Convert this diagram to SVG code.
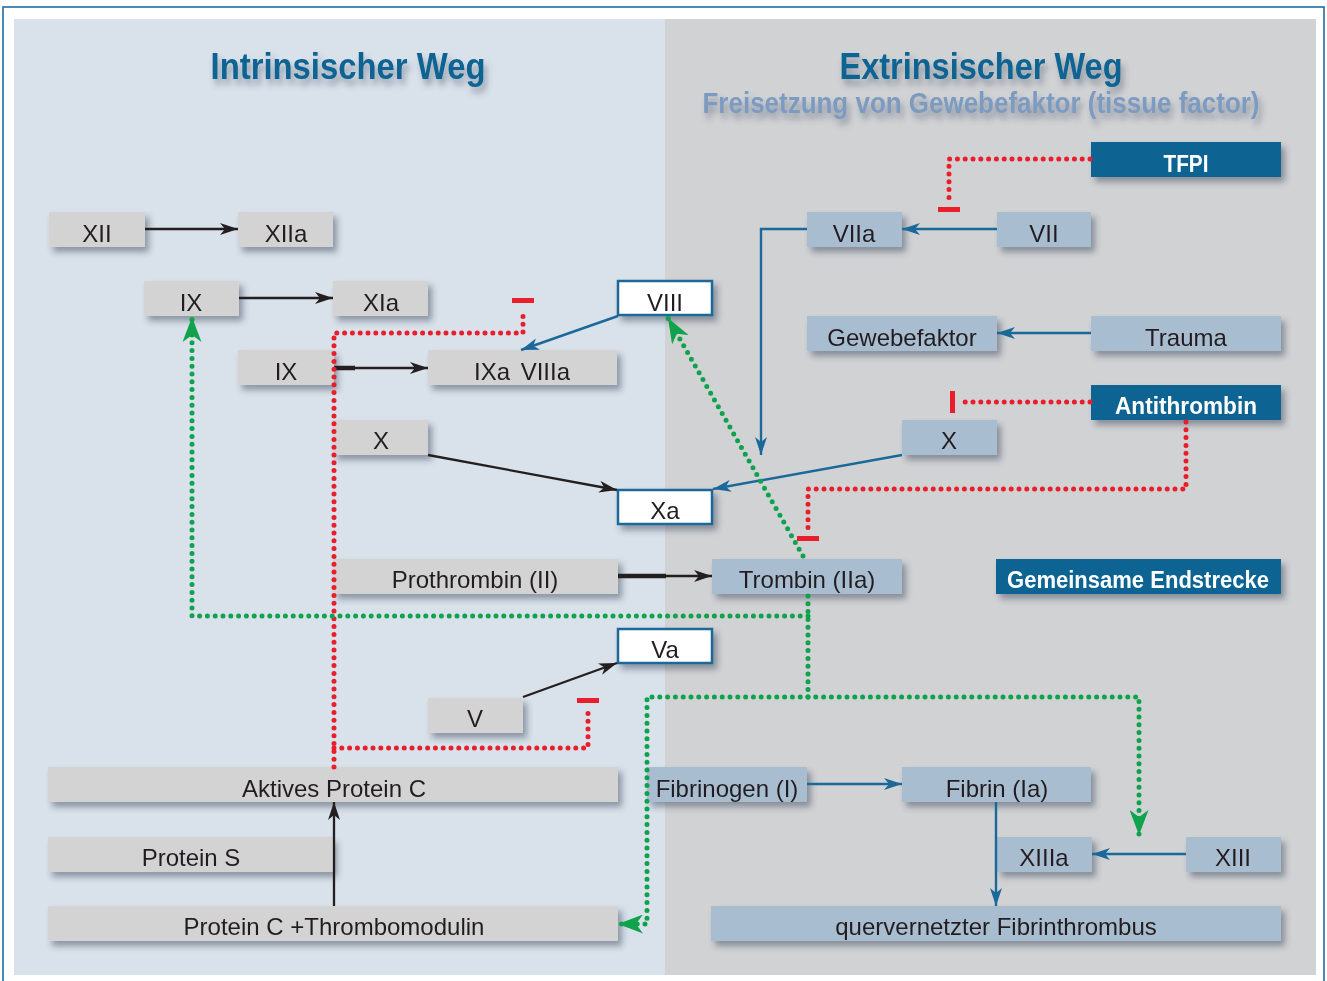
<svg xmlns="http://www.w3.org/2000/svg" width="1327" height="981" viewBox="0 0 1327 981">
<defs>
<style>
.gb{fill:#d3d3d3}
.bb{fill:#a9bdd1}
.db{fill:#0b6492}
.wb{fill:#ffffff;stroke:#1a6999;stroke-width:2.5}
.box{filter:url(#sh)}
.t{font-family:"Liberation Sans",Arial,sans-serif;font-size:24px;fill:#231f20;text-anchor:middle}
.tw{font-family:"Liberation Sans",Arial,sans-serif;font-size:24px;font-weight:bold;fill:#ffffff;text-anchor:middle}
.title{font-family:"Liberation Sans",Arial,sans-serif;font-weight:bold;text-anchor:middle;filter:url(#tsh)}
.k{stroke:#231f20;stroke-width:2.3;fill:none}
.kt{stroke:#231f20;stroke-width:4.5;fill:none}
.b{stroke:#1a6999;stroke-width:2.4;fill:none}
.rd{stroke:#ea1d2a;stroke-width:5;stroke-linecap:round;stroke-dasharray:0 7.8;fill:none}
.gd{stroke:#0ea24d;stroke-width:5;stroke-linecap:round;stroke-dasharray:0 7.8;fill:none}
.bar{fill:#ea1d2a}
</style>
<filter id="sh" x="-20%" y="-40%" width="140%" height="200%">
<feDropShadow dx="4" dy="5" stdDeviation="3" flood-color="#2b3a4e" flood-opacity="0.45"/>
</filter>
<filter id="tsh" x="-10%" y="-40%" width="120%" height="200%">
<feGaussianBlur in="SourceAlpha" stdDeviation="3" result="b"/>
<feOffset in="b" dx="3" dy="6" result="o"/>
<feFlood flood-color="#3a4a60" flood-opacity="0.45"/>
<feComposite in2="o" operator="in" result="s"/>
<feMerge><feMergeNode in="s"/><feMergeNode in="SourceGraphic"/></feMerge>
</filter>
<marker id="ak" markerUnits="userSpaceOnUse" markerWidth="18" markerHeight="12" viewBox="0 0 18 12" refX="18" refY="6" orient="auto">
<path d="M0,0 L18,6 L0,12 L5,6 Z" fill="#231f20"/>
</marker>
<marker id="ab" markerUnits="userSpaceOnUse" markerWidth="18" markerHeight="12" viewBox="0 0 18 12" refX="18" refY="6" orient="auto">
<path d="M0,0 L18,6 L0,12 L5,6 Z" fill="#1a6999"/>
</marker>
<marker id="ag" markerUnits="userSpaceOnUse" markerWidth="25" markerHeight="19" viewBox="0 0 25 19" refX="25" refY="9.5" orient="auto">
<path d="M0,0 L25,9.5 L0,19 L7,9.5 Z" fill="#10a24c"/>
</marker>
</defs>

<!-- background -->
<rect x="3" y="7" width="1321" height="980" fill="#ffffff" stroke="#1d6fa0" stroke-width="1.6"/>
<rect x="14" y="19" width="651" height="956" fill="#d9e1ea"/>
<rect x="665" y="19" width="651" height="956" fill="#d1d2d4"/>

<!-- titles -->
<text class="title" x="348" y="79" font-size="36" fill="#0b6492" textLength="275" lengthAdjust="spacingAndGlyphs">Intrinsischer Weg</text>
<text class="title" x="981" y="79" font-size="36" fill="#0b6492" textLength="283" lengthAdjust="spacingAndGlyphs">Extrinsischer Weg</text>
<text class="title" x="981" y="113" font-size="29" fill="#7d9bc1" textLength="557" lengthAdjust="spacingAndGlyphs">Freisetzung von Gewebefaktor (tissue factor)</text>

<!-- nodes: intrinsic -->
<g id="n-XII" class="box"><rect class="gb" x="49" y="212" width="96" height="35"/><text class="t" x="97" y="242">XII</text></g>
<g id="n-XIIa" class="box"><rect class="gb" x="238" y="212" width="95" height="35"/><text class="t" x="286" y="242">XIIa</text></g>
<g id="n-IX1" class="box"><rect class="gb" x="144" y="281" width="95" height="35"/><text class="t" x="191" y="311">IX</text></g>
<g id="n-XIa" class="box"><rect class="gb" x="333" y="281" width="95" height="35"/><text class="t" x="381" y="311">XIa</text></g>
<g id="n-IX2" class="box"><rect class="gb" x="238" y="350" width="96" height="35"/><text class="t" x="286" y="380">IX</text></g>
<g id="n-IXaVIIIa" class="box"><rect class="gb" x="428" y="350" width="189" height="35"/><text class="t" x="522" y="380" word-spacing="4">IXa VIIIa</text></g>
<g id="n-X1" class="box"><rect class="gb" x="333" y="420" width="95" height="35"/><text class="t" x="381" y="449">X</text></g>
<g id="n-Prothrombin" class="box"><rect class="gb" x="333" y="559" width="285" height="35"/><text class="t" x="475" y="588">Prothrombin (II)</text></g>
<g id="n-V" class="box"><rect class="gb" x="428" y="698" width="95" height="35"/><text class="t" x="475" y="727">V</text></g>
<g id="n-APC" class="box"><rect class="gb" x="48" y="767" width="570" height="35"/><text class="t" x="334" y="797">Aktives Protein C</text></g>
<g id="n-ProteinS" class="box"><rect class="gb" x="48" y="837" width="285" height="35"/><text class="t" x="191" y="866">Protein S</text></g>
<g id="n-PCTM" class="box"><rect class="gb" x="48" y="906" width="570" height="35"/><text class="t" x="334" y="935">Protein C +Thrombomodulin</text></g>

<!-- white nodes -->
<g id="n-VIII" class="box"><rect class="wb" x="618" y="281" width="94" height="34"/><text class="t" x="665" y="311">VIII</text></g>
<g id="n-Xa" class="box"><rect class="wb" x="618" y="490" width="94" height="34"/><text class="t" x="665" y="519">Xa</text></g>
<g id="n-Va" class="box"><rect class="wb" x="618" y="629" width="94" height="34"/><text class="t" x="665" y="658">Va</text></g>

<!-- nodes: extrinsic -->
<g id="n-TFPI" class="box"><rect class="db" x="1091" y="142" width="190" height="35"/><text class="tw" x="1186" y="172" textLength="45" lengthAdjust="spacingAndGlyphs">TFPI</text></g>
<g id="n-VIIa" class="box"><rect class="bb" x="807" y="212" width="95" height="35"/><text class="t" x="854" y="242">VIIa</text></g>
<g id="n-VII" class="box"><rect class="bb" x="997" y="212" width="94" height="35"/><text class="t" x="1044" y="242">VII</text></g>
<g id="n-Gewebefaktor" class="box"><rect class="bb" x="807" y="316" width="190" height="35"/><text class="t" x="902" y="346">Gewebefaktor</text></g>
<g id="n-Trauma" class="box"><rect class="bb" x="1091" y="316" width="190" height="35"/><text class="t" x="1186" y="346">Trauma</text></g>
<g id="n-Antithrombin" class="box"><rect class="db" x="1091" y="385" width="190" height="35"/><text class="tw" x="1186" y="414" textLength="142" lengthAdjust="spacingAndGlyphs">Antithrombin</text></g>
<g id="n-X2" class="box"><rect class="bb" x="902" y="420" width="95" height="35"/><text class="t" x="949" y="449">X</text></g>
<g id="n-Trombin" class="box"><rect class="bb" x="712" y="559" width="190" height="35"/><text class="t" x="807" y="588">Trombin (IIa)</text></g>
<g id="n-Gemeinsame" class="box"><rect class="db" x="996" y="559" width="285" height="35"/><text class="tw" x="1138" y="588" textLength="262" lengthAdjust="spacingAndGlyphs">Gemeinsame Endstrecke</text></g>
<g id="n-Fibrinogen" class="box"><rect class="bb" x="647" y="767" width="160" height="35"/><text class="t" x="727" y="797">Fibrinogen (I)</text></g>
<g id="n-Fibrin" class="box"><rect class="bb" x="902" y="767" width="189" height="35"/><text class="t" x="997" y="797">Fibrin (Ia)</text></g>
<g id="n-XIIIa" class="box"><rect class="bb" x="997" y="837" width="95" height="35"/><text class="t" x="1044" y="866">XIIIa</text></g>
<g id="n-XIII" class="box"><rect class="bb" x="1186" y="837" width="95" height="35"/><text class="t" x="1233" y="866">XIII</text></g>
<g id="n-Fibrinthrombus" class="box"><rect class="bb" x="711" y="906" width="570" height="35"/><text class="t" x="996" y="935">quervernetzter Fibrinthrombus</text></g>

<!-- connectors -->
<g id="connectors">
<!-- black -->
<line class="k" x1="145" y1="229" x2="238" y2="229" marker-end="url(#ak)"/>
<line class="k" x1="239" y1="298" x2="333" y2="298" marker-end="url(#ak)"/>
<line class="kt" x1="334" y1="368" x2="355" y2="368"/>
<line class="k" x1="355" y1="368" x2="428" y2="368" marker-end="url(#ak)"/>
<line class="k" x1="428" y1="455" x2="617" y2="490" marker-end="url(#ak)"/>
<line class="kt" x1="618" y1="576" x2="666" y2="576"/>
<line class="k" x1="666" y1="576" x2="712" y2="576" marker-end="url(#ak)"/>
<line class="k" x1="523" y1="697" x2="617" y2="663" marker-end="url(#ak)"/>
<line class="k" x1="334" y1="906" x2="334" y2="802" marker-end="url(#ak)"/>
<!-- blue -->
<line class="b" x1="997" y1="229" x2="902" y2="229" marker-end="url(#ab)"/>
<path class="b" d="M807,229 H761 V455" marker-end="url(#ab)"/>
<line class="b" x1="1091" y1="333" x2="997" y2="333" marker-end="url(#ab)"/>
<line class="b" x1="902" y1="455" x2="713" y2="489" marker-end="url(#ab)"/>
<line class="b" x1="618" y1="316" x2="521" y2="350" marker-end="url(#ab)"/>
<line class="b" x1="807" y1="784" x2="902" y2="784" marker-end="url(#ab)"/>
<line class="b" x1="996" y1="802" x2="996" y2="906" marker-end="url(#ab)"/>
<line class="b" x1="1186" y1="854" x2="1092" y2="854" marker-end="url(#ab)"/>
<!-- red inhibition -->
<path class="rd" d="M1090,159 H949 V201"/>
<rect class="bar" x="938" y="207" width="22" height="5"/>
<path class="rd" d="M1090,402 H958"/>
<rect class="bar" x="950" y="391" width="5" height="22"/>
<path class="rd" d="M1186,422 V489 H808 V530"/>
<rect class="bar" x="797" y="536" width="22" height="5"/>
<path class="rd" d="M334,767 V333 H523 V310"/>
<rect class="bar" x="512" y="298" width="22" height="5"/>
<path class="rd" d="M334,748 H588 V709"/>
<rect class="bar" x="577" y="698" width="22" height="5"/>
<!-- green activation -->
<path class="gd" d="M803,556 L668,318" marker-end="url(#ag)"/>
<path class="gd" d="M808,596 V697"/>
<path class="gd" d="M808,616 H192 V317" marker-end="url(#ag)"/>
<path class="gd" d="M808,697 H1139 V835" marker-end="url(#ag)"/>
<path class="gd" d="M808,697 H647 V924 H618" marker-end="url(#ag)"/>
</g>
</svg>
